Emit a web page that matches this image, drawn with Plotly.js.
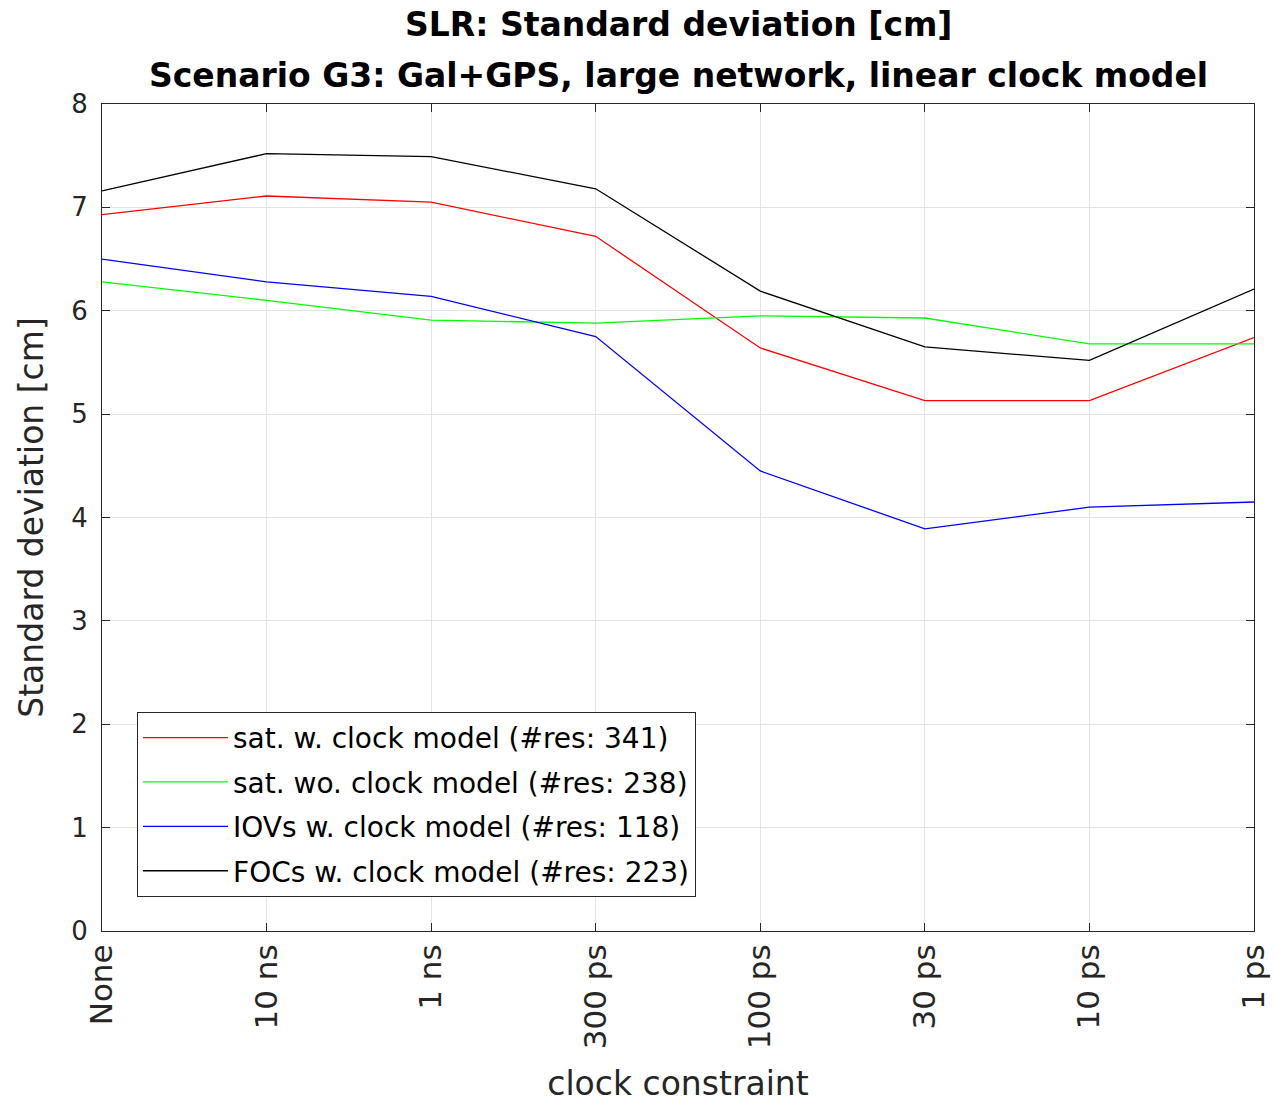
<!DOCTYPE html>
<html>
<head>
<meta charset="utf-8">
<script src="https://cdn.plot.ly/plotly-3.0.1.min.js"></script>
<style>
html,body{margin:0;padding:0;background:#fff;}
#chart{width:1276px;height:1103px;}
</style>
</head>
<body>
<div id="chart"></div>
<script>
const categories = ["None", "10 ns", "1 ns", "300 ps", "100 ps", "30 ps", "10 ps", "1 ps"];
const satWClock = [6.93, 7.11, 7.05, 6.72, 5.64, 5.13, 5.13, 5.74];
const satWoClock = [6.28, 6.10, 5.91, 5.88, 5.95, 5.93, 5.68, 5.68];
const iovWClock = [6.50, 6.28, 6.14, 5.75, 4.45, 3.89, 4.10, 4.15];
const focWClock = [7.16, 7.52, 7.49, 7.18, 6.19, 5.65, 5.52, 6.21];
const seriesNames = [
  "sat. w. clock model (#res: 341)",
  "sat. wo. clock model (#res: 238)",
  "IOVs w. clock model (#res: 118)",
  "FOCs w. clock model (#res: 223)"
];
const yTicks = [0, 1, 2, 3, 4, 5, 6, 7, 8];

const seriesData = [satWClock, satWoClock, iovWClock, focWClock];
const colors = ["#ff0000", "#00ff00", "#0000ff", "#000000"];
const traces = seriesData.map((vals, i) => ({
  x: categories, y: vals, type: "scatter", mode: "lines",
  name: seriesNames[i], legendgroup: "g" + i,
  line: {color: colors[i], width: 1.3}
}));

const font = "DejaVu Sans, Liberation Sans, Arial, sans-serif";
const layout = {
  width: 1276, height: 1103,
  margin: {l: 102, r: 22, t: 104, b: 172},
  paper_bgcolor: "#fff", plot_bgcolor: "#fff",
  font: {family: font, color: "#262626"},
  showlegend: true,
  legend: {
    x: 0.0304, y: 0.265, xanchor: "left", yanchor: "top",
    bgcolor: "#fff", bordercolor: "#262626", borderwidth: 1,
    font: {family: font, size: 28, color: "#000"},
    tracegroupgap: 5, itemwidth: 85
  },
  xaxis: {
    type: "category", range: [0, 7],
    tickangle: -90, tickfont: {size: 31, family: font, color: "#262626"},
    showgrid: true, gridcolor: "#e3e3e3", gridwidth: 1,
    showline: true, linecolor: "#262626", linewidth: 1, mirror: "ticks",
    ticks: "inside", ticklen: 8, tickcolor: "#262626",
    zeroline: false,
    title: {text: "clock constraint", font: {size: 33, family: font, color: "#262626"}, standoff: 24}
  },
  yaxis: {
    range: [0, 8], tickvals: yTicks,
    tickfont: {size: 26, family: font, color: "#262626"},
    ticklabelstandoff: 8,
    showgrid: true, gridcolor: "#e3e3e3", gridwidth: 1,
    showline: true, linecolor: "#262626", linewidth: 1, mirror: "ticks",
    ticks: "inside", ticklen: 8, tickcolor: "#262626",
    zeroline: false,
    title: {text: "Standard deviation [cm]", font: {size: 33, family: font, color: "#262626"}, standoff: 17}
  },
  annotations: [
    {text: "<b>SLR: Standard deviation [cm]</b>", xref: "paper", yref: "paper", x: 0.5, y: 1, yshift: 80,
     xanchor: "center", yanchor: "middle", showarrow: false, font: {size: 33, family: font, color: "#000"}},
    {text: "<b>Scenario G3: Gal+GPS, large network, linear clock model</b>", xref: "paper", yref: "paper", x: 0.5, y: 1, yshift: 29,
     xanchor: "center", yanchor: "middle", showarrow: false, font: {size: 33, family: font, color: "#000"}}
  ]
};

Plotly.newPlot("chart", traces, layout, {displayModeBar: false, staticPlot: true});
</script>
</body>
</html>
